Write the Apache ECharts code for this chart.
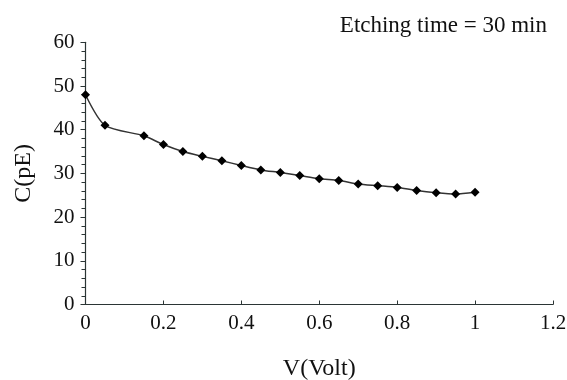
<!DOCTYPE html>
<html>
<head>
<meta charset="utf-8">
<script src="https://cdn.jsdelivr.net/npm/echarts@6/dist/echarts.min.js"></script>
<style>html,body{margin:0;padding:0;background:#fff}#c{width:567px;height:380px}</style>
</head>
<body>
<div id="c"></div>
<script>
var voltage = [0, 0.05, 0.15, 0.2, 0.25, 0.3, 0.35, 0.4, 0.45, 0.5, 0.55, 0.6, 0.65, 0.7, 0.75, 0.8, 0.85, 0.9, 0.95, 1.0];
var capacitance = [48.0, 41.0, 38.6, 36.6, 35.0, 33.9, 32.9, 31.8, 30.8, 30.2, 29.5, 28.8, 28.4, 27.6, 27.2, 26.8, 26.1, 25.6, 25.3, 25.7];
var xTicks = {min: 0, max: 1.2, interval: 0.2};
var yTicks = {min: 0, max: 60, interval: 10};
var titleText = 'Etching time = 30 min';
var xName = 'V(Volt)';
var yName = 'C(pE)';

var font = 'Liberation Serif';
var axisColor = '#2b3535';
var chart = echarts.init(document.getElementById('c'), null, {renderer: 'canvas'});
chart.setOption({
  backgroundColor: '#ffffff',
  animation: false,
  title: {
    text: titleText, right: 15, top: 9,
    textStyle: {fontFamily: font, fontSize: 23, fontWeight: 'normal', color: '#111'}
  },
  grid: {left: 85.5, right: 14, top: 42.3, bottom: 75.5, containLabel: false, outerBoundsMode: 'none'},
  xAxis: {
    type: 'value', min: xTicks.min, max: xTicks.max, interval: xTicks.interval,
    name: xName, nameLocation: 'middle', nameGap: 52,
    nameTextStyle: {fontFamily: font, fontSize: 24, color: '#111'},
    axisLine: {show: true, onZero: false, lineStyle: {color: axisColor, width: 1.2}},
    axisTick: {show: true, inside: true, length: 4, lineStyle: {color: axisColor}},
    axisLabel: {fontFamily: font, fontSize: 21, color: '#111', margin: 8,
      formatter: function (v) { return String(Math.round(v * 10) / 10); }},
    splitLine: {show: false}
  },
  yAxis: {
    type: 'value', min: yTicks.min, max: yTicks.max, interval: yTicks.interval,
    name: yName, nameLocation: 'middle', nameGap: 50,
    nameTextStyle: {fontFamily: font, fontSize: 24, color: '#111'},
    axisLine: {show: true, lineStyle: {color: axisColor, width: 1.2}},
    axisTick: {show: true, inside: false, length: 5, lineStyle: {color: axisColor}},
    minorTick: {show: true, splitNumber: 5, length: 4, lineStyle: {color: axisColor}},
    axisLabel: {fontFamily: font, fontSize: 21, color: '#111', margin: 11},
    splitLine: {show: false}
  },
  series: [{
    type: 'line',
    data: voltage.map(function (v, i) { return [v, capacitance[i]]; }),
    smooth: 0.25,
    symbol: 'diamond', symbolSize: 9,
    lineStyle: {color: '#333', width: 1.5},
    itemStyle: {color: '#000'}
  }]
});
</script>
</body>
</html>
